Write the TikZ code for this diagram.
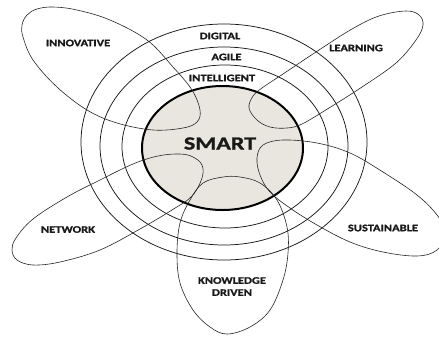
\documentclass[tikz,border=0pt]{standalone}
\usepackage{fontspec}
\newfontfamily\labfont[FakeStretch=1.25,BoldFeatures={FakeBold=1.2}]{Carlito}
\newfontfamily\smartfont[FakeStretch=1.3,BoldFeatures={FakeBold=1.2}]{Carlito}
\definecolor{smartfill}{RGB}{232,230,222}
\definecolor{inkgray}{RGB}{25,25,25}
\begin{document}
\begin{tikzpicture}[x=1pt,y=-1pt,
  ring/.style={draw=black!90,line width=0.75pt},
  petal/.style={draw=black!85,line width=0.6pt},
  lab/.style={font=\labfont\bfseries\fontsize{10}{11.5}\selectfont,text=inkgray,inner sep=0pt,align=center},
  core/.style={draw=black,line width=2pt,fill=smartfill}]
\useasboundingbox (0,0) rectangle (439,338);
\fill[white] (0,0) rectangle (439,338);
% rings
\draw[ring] (224,142) ellipse [x radius=143pt,y radius=118pt];
\draw[ring] (224,146) ellipse [x radius=124pt,y radius=99pt];
\draw[ring] (225,146.5) ellipse [x radius=103pt,y radius=81.5pt];
% core
\draw[core] (222.5,148) ellipse [x radius=80.5pt,y radius=62pt];
% petals
\draw[petal] plot[smooth cycle,tension=0.6] coordinates {(22,25) (27,15) (37,9) (53,7) (77,10) (110,20) (147,40) (173,67) (192,90) (200,110) (197,122) (183,128) (153,130) (117,123) (87,110) (57,87) (33,60) (23,37)};
\draw[petal] plot[smooth cycle,tension=0.6] coordinates {(253,96) (262,88) (286,72) (319,50) (352,29) (379,16) (406,11) (419,15) (423,25) (416,40) (396,63) (362,87) (329,108) (302,124) (287,128) (270,127) (257,120) (249,108)};
\draw[petal] plot[smooth cycle,tension=0.6] coordinates {(180,154) (193,157) (202,165) (202,178) (192,196) (172,210) (140,229) (100,250) (60,262) (33,265) (17,260) (12,250) (16,238) (33,219) (67,197) (100,180) (133,164) (158,156)};
\draw[petal] plot[smooth cycle,tension=0.6] coordinates {(263,145) (283,140) (317,143) (350,153) (383,172) (417,195) (437,215) (446,233) (437,250) (417,256) (383,252) (350,242) (317,225) (290,208) (270,192) (260,175) (257,158)};
\draw[petal] plot[smooth cycle,tension=0.6] coordinates {(223,177) (203,183) (190,200) (180,223) (177,253) (180,283) (193,310) (210,327) (227,334) (250,327) (270,310) (283,280) (288,253) (287,227) (277,200) (260,183) (240,177)};
% labels
\node[lab] (innov) at (78,43) {INNOVATIVE};
\node[lab] (learn) at (356,48) {LEARNING};
\node[lab] (digit) at (220,36) {DIGITAL};
\node[lab] (agile) at (226.5,57) {AGILE};
\node[lab] (intel) at (222,78) {INTELLIGENT};
\node[lab] (netw) at (68,229.5) {NETWORK};
\node[lab] (sust) at (383,228) {SUSTAINABLE};
\node[lab] (know) at (232,286.5) {KNOWLEDGE\\[0.5pt]DRIVEN};
\node[font=\smartfont\bfseries\fontsize{18.5}{20}\selectfont,text=inkgray,inner sep=0pt] (smart) at (220,143.5) {SMART};
\end{tikzpicture}
\end{document}
